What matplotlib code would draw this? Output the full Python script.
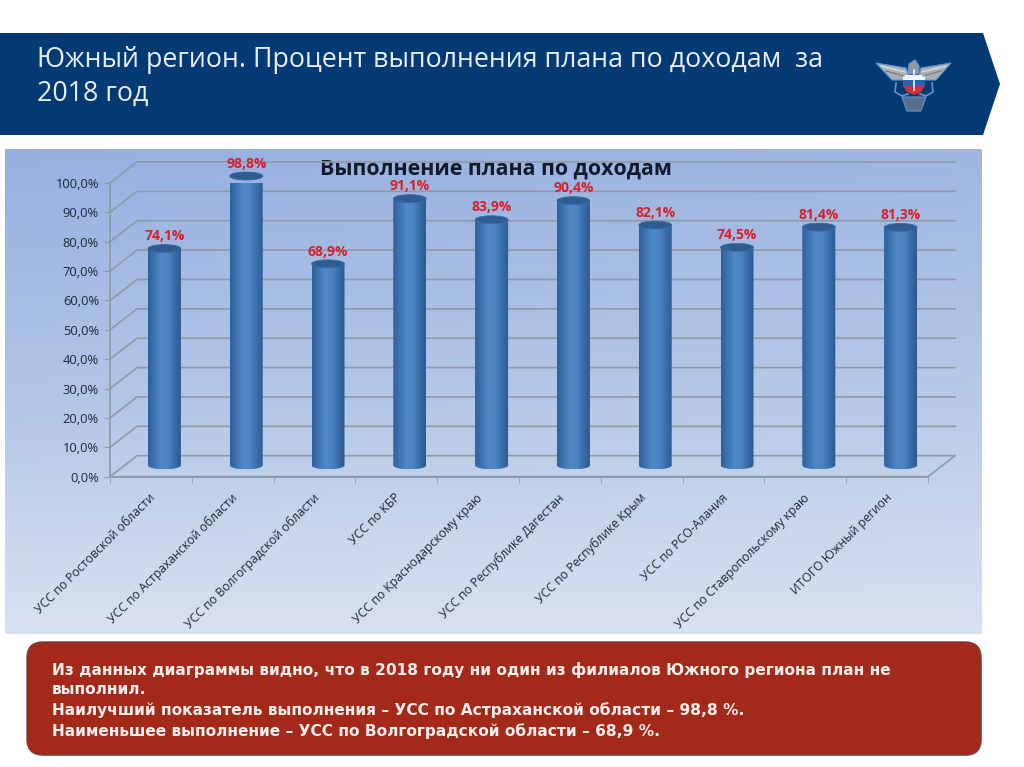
import numpy as np
import matplotlib
matplotlib.use('Agg')
import matplotlib.pyplot as plt
from matplotlib.patches import Polygon, FancyBboxPatch, PathPatch, Ellipse
from matplotlib.path import Path
from matplotlib.colors import LinearSegmentedColormap
from matplotlib.transforms import ScaledTranslation

categories = ['УСС по Ростовской области', 'УСС по Астраханской области',
              'УСС по Волгоградской области', 'УСС по КБР',
              'УСС по Краснодарскому краю', 'УСС по Республике Дагестан',
              'УСС по Республике Крым', 'УСС по РСО-Алания',
              'УСС по Ставропольскому краю', 'ИТОГО Южный регион']
values = [74.1, 98.8, 68.9, 91.1, 83.9, 90.4, 82.1, 74.5, 81.4, 81.3]
value_labels = ['74,1%', '98,8%', '68,9%', '91,1%', '83,9%', '90,4%', '82,1%', '74,5%', '81,4%', '81,3%']
y_ticks = [0, 10, 20, 30, 40, 50, 60, 70, 80, 90, 100]
y_labels = ['0,0%', '10,0%', '20,0%', '30,0%', '40,0%', '50,0%', '60,0%', '70,0%', '80,0%', '90,0%', '100,0%']

title_lines = ['Южный регион. Процент выполнения плана по доходам  за', '2018 год']
chart_title = 'Выполнение плана по доходам'
note_lines = ['Из данных диаграммы видно, что в 2018 году ни один из филиалов Южного региона план не',
              'выполнил.',
              'Наилучший показатель выполнения – УСС по Астраханской области – 98,8 %.',
              'Наименьшее выполнение – УСС по Волгоградской области – 68,9 %.']

W, H = 1024, 767
NAVY = '#033a74'
GRID = '#8e9aa8'
TEXT = '#1c2738'
RED = '#d8202c'

plt.rcParams['font.family'] = ['Open Sans', 'DejaVu Sans']

fig = plt.figure(figsize=(W / 100, H / 100), dpi=100, facecolor='white')

# page layer in pixels
page = fig.add_axes([0, 0, 1, 1])
page.set_xlim(0, W)
page.set_ylim(H, 0)
page.axis('off')

page.add_patch(Polygon([(0, 33), (983, 33), (1000, 84), (983, 135), (0, 135)], fc=NAVY, ec='none'))
for y, line in zip([60, 94], title_lines):
    page.text(37, y, line, color='#e8eef5', fontsize=19.3, va='center')

# logo
BLUE_LINE = '#5f96cc'
page.add_patch(Polygon([(876, 63), (906, 68), (909, 76), (903, 80), (892, 80)], fc='#a9b0b6', ec=BLUE_LINE, lw=0.8))
page.add_patch(Polygon([(951, 63), (921, 68), (919, 76), (925, 80), (936, 80)], fc='#a9b0b6', ec=BLUE_LINE, lw=0.8))
page.plot([881, 905], [66, 72], color='#e1e4e8', lw=0.8)
page.plot([946, 922], [66, 72], color='#e1e4e8', lw=0.8)
page.plot([886, 904], [71, 76], color='#71787f', lw=0.8)
page.plot([941, 923], [71, 76], color='#71787f', lw=0.8)
page.add_patch(Polygon([(909, 64), (915, 60), (919, 66), (919, 74), (908, 74)], fc='#8d99a5', ec=BLUE_LINE, lw=0.8))
page.add_patch(Polygon([(903, 75), (925, 75), (925, 80), (903, 80)], fc='#f2f4f7', ec='none'))
page.add_patch(Polygon([(903, 80), (925, 80), (925, 86), (903, 86)], fc='#2c62b0', ec='none'))
page.add_patch(Polygon([(903, 86), (925, 86), (921, 92), (914, 95), (907, 92)], fc='#cf3030', ec='none'))
page.plot([914, 914], [70, 90], color='#f2f4f7', lw=1.2)
page.add_patch(Polygon([(902, 97), (926, 97), (921, 111), (907, 111)], fc='#566f8c', ec=BLUE_LINE, lw=0.8))
page.plot([896, 895, 902, 908], [83, 92, 96, 94], color=BLUE_LINE, lw=1.2)
page.plot([932, 933, 926, 920], [83, 92, 96, 94], color=BLUE_LINE, lw=1.2)

# chart panel gradient
yy, xx = np.mgrid[0:1:60j, 0:1:60j]
shade = np.clip(0.86 * yy + 0.14 * xx * (1 - yy) + 0.05, 0, 1)
panel_cmap = LinearSegmentedColormap.from_list('panel', ['#93ade0', '#b3c6e6', '#e0e7f4'])
page.imshow(shade, cmap=panel_cmap, vmin=0, vmax=1, extent=(5, 982, 634, 149), aspect='auto', zorder=1)
page.set_xlim(0, W)
page.set_ylim(H, 0)

# note box
page.add_patch(FancyBboxPatch((32, 648), 950, 108, boxstyle='round,pad=0,rounding_size=16', fc='#8f9aa6', ec='none', alpha=0.6, zorder=2))
page.add_patch(FancyBboxPatch((27, 642), 954, 113, boxstyle='round,pad=0,rounding_size=16', fc='#a32a1b', ec='#7d3a3a', lw=1, zorder=3))
for y, line in zip([670, 690, 710, 731], note_lines):
    page.text(52, y, line, color='#f6eeea', fontsize=11.1, fontweight='bold', va='center', family='DejaVu Sans', zorder=4)

# chart layer: front plane of the 3D box
left, right, y0, y100 = 110, 928, 476.7, 183
ax = fig.add_axes([left / W, 1 - y0 / H, (right - left) / W, (y0 - y100) / H])
ax.patch.set_alpha(0)
n = len(categories)
ax.set_xlim(0, n)
ax.set_ylim(0, 100)
depth_x = 27 / ((right - left) / n)
depth_y = 21 / ((y0 - y100) / 100)

for v in y_ticks:
    ax.plot([0, depth_x, n + depth_x], [v, v + depth_y, v + depth_y], color=GRID, lw=1.2, clip_on=False, zorder=1)
ax.plot([0, n, n + depth_x], [0, 0, depth_y], color=GRID, lw=1.2, clip_on=False, zorder=1)

for s in ['top', 'right']:
    ax.spines[s].set_visible(False)
for s in ['left', 'bottom']:
    ax.spines[s].set_color(GRID)
    ax.spines[s].set_linewidth(1.2)

ax.set_yticks(y_ticks)
ax.set_yticklabels(y_labels)
ax.tick_params(axis='y', length=4, color=GRID, labelsize=9.3, labelcolor=TEXT, pad=4)
ax.set_xticks(np.arange(n + 1), minor=True)
ax.tick_params(axis='x', which='minor', length=4, color=GRID)
ax.set_xticks(np.arange(n) + 0.5)
ax.set_xticklabels(categories, rotation=45, ha='right', va='top', rotation_mode='anchor', fontsize=8.8, color=TEXT)
ax.tick_params(axis='x', which='major', length=0, pad=10.5)
shift = ScaledTranslation(-2 / 100, 0, fig.dpi_scale_trans)
for lab in ax.get_xticklabels():
    lab.set_transform(lab.get_transform() + shift)

# cylinders
cyl_cmap = LinearSegmentedColormap.from_list('cyl', ['#2f5f98', '#3f74b4', '#5088c8', '#4d84c4', '#3a6dab', '#2c5a90'])
rx = 16.5 / ((right - left) / n)
ry = 4 / ((y0 - y100) / 100)
base = depth_y / 2 + 0.3
t = np.linspace(np.pi, 2 * np.pi, 40)
gradient = np.linspace(0, 1, 128).reshape(1, -1)
for i, v in enumerate(values):
    cx = i + 0.5 + depth_x / 2
    top = v + depth_y / 2
    px = np.concatenate([cx + rx * np.cos(t), [cx + rx, cx - rx]])
    py = np.concatenate([base + ry * np.sin(t), [top, top]])
    clip = PathPatch(Path(np.column_stack([px, py])), transform=ax.transData, fc='none', ec='none')
    ax.add_patch(clip)
    im = ax.imshow(gradient, cmap=cyl_cmap, extent=(cx - rx, cx + rx, base - ry, top), aspect='auto', zorder=3)
    im.set_clip_path(clip)
    ax.add_patch(Ellipse((cx, top), 2 * rx, 2 * ry, fc='#2f5c92', ec='#3c6ca6', lw=0.6, zorder=4, clip_on=False))
    ax.text(cx, top + 1.8, value_labels[i], color=RED, fontsize=10, fontweight='bold', ha='center', va='bottom', zorder=5, clip_on=False)
ax.set_xlim(0, n)
ax.set_ylim(0, 100)

page.text(496, 169, chart_title, color='#111a2b', fontsize=15.4, fontweight='bold', ha='center', va='center', zorder=5)

fig.savefig('out.png', dpi=100)
